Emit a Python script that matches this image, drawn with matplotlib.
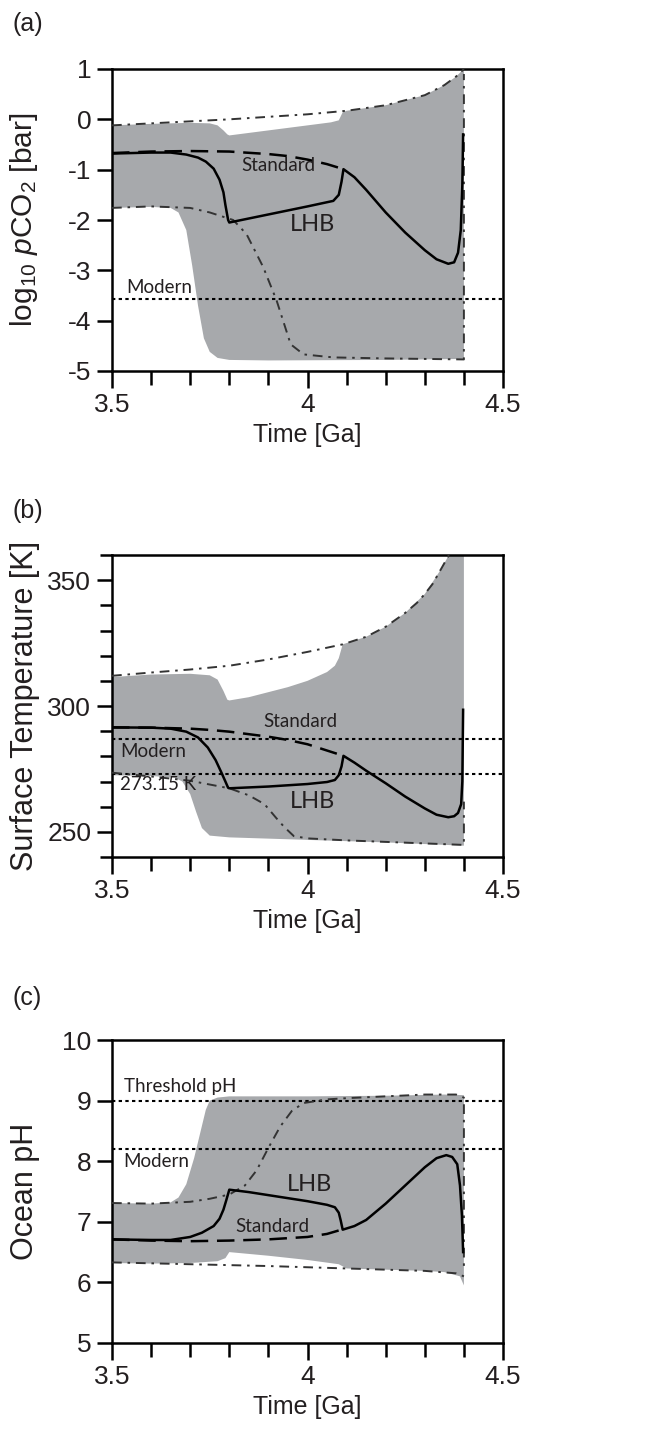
import numpy as np
import matplotlib.pyplot as plt
from matplotlib.ticker import FixedLocator, MultipleLocator

plt.rcParams['font.family'] = ['Liberation Sans', 'DejaVu Sans']
plt.rcParams['axes.unicode_minus'] = False
plt.rcParams['mathtext.fontset'] = 'custom'
plt.rcParams['mathtext.rm'] = 'Liberation Sans'
plt.rcParams['mathtext.it'] = 'Liberation Sans:italic'

GRAY = '#a7a9ac'
ANNOT = ['Lato', 'DejaVu Sans']
TXT = '#231f20'

# ---------------- (a) log10 pCO2 ----------------
a_band_up_x = [3.5, 3.6, 3.7, 3.75, 3.77, 3.785, 3.795, 3.8, 3.9, 4.0, 4.06, 4.08, 4.09, 4.1, 4.2, 4.3, 4.35, 4.38, 4.4]
a_band_up_y = [-0.12, -0.09, -0.07, -0.08, -0.12, -0.22, -0.3, -0.32, -0.22, -0.12, -0.06, -0.02, 0.14, 0.17, 0.28, 0.48, 0.68, 0.85, 1.0]
a_band_lo_x = [3.5, 3.6, 3.65, 3.67, 3.69, 3.705, 3.72, 3.735, 3.75, 3.77, 3.8, 3.9, 4.2, 4.4]
a_band_lo_y = [-1.76, -1.74, -1.76, -1.85, -2.2, -2.9, -3.7, -4.35, -4.62, -4.74, -4.78, -4.79, -4.78, -4.76]
a_hi_x = [3.5, 3.6, 3.7, 3.8, 3.9, 4.0, 4.1, 4.2, 4.3, 4.35, 4.38, 4.4]
a_hi_y = [-0.12, -0.08, -0.04, 0.0, 0.05, 0.1, 0.17, 0.28, 0.48, 0.68, 0.85, 1.0]
a_lo_x = [3.5, 3.6, 3.7, 3.75, 3.81, 3.844, 3.887, 3.921, 3.957, 3.99, 4.066, 4.2, 4.3, 4.4, 4.4]
a_lo_y = [-1.76, -1.73, -1.76, -1.85, -2.0, -2.28, -2.94, -3.6, -4.47, -4.67, -4.73, -4.75, -4.76, -4.77, 0.9]
a_std_x = [3.5, 3.6, 3.7, 3.8, 3.9, 3.95, 4.0, 4.05, 4.092]
a_std_y = [-0.67, -0.64, -0.63, -0.64, -0.69, -0.73, -0.8, -0.89, -0.99]
a_lhb_x = [3.5, 3.6, 3.65, 3.69, 3.72, 3.74, 3.76, 3.775, 3.785, 3.79, 3.797, 3.8, 3.9, 4.0, 4.066,
           4.08, 4.087, 4.092, 4.12, 4.15, 4.2, 4.25, 4.3, 4.33, 4.36, 4.375, 4.385, 4.392, 4.396, 4.398]
a_lhb_y = [-0.68, -0.66, -0.66, -0.7, -0.76, -0.84, -0.98, -1.2, -1.45, -1.7, -2.0, -2.05, -1.89, -1.73, -1.62,
           -1.5, -1.24, -0.99, -1.15, -1.4, -1.85, -2.25, -2.6, -2.78, -2.87, -2.84, -2.65, -2.2, -1.3, -0.3]
a_modern = -3.56

# ---------------- (b) surface temperature ----------------
b_band_up_x = [3.5, 3.6, 3.7, 3.75, 3.77, 3.785, 3.795, 3.8, 3.85, 3.9, 3.95, 4.0, 4.05, 4.07, 4.08, 4.09,
               4.15, 4.2, 4.25, 4.3, 4.34, 4.36, 4.37, 4.4]
b_band_up_y = [311.5, 312.5, 312.8, 312.2, 310.5, 306, 302.5, 302.2, 303.5, 305.5, 307.5, 310, 313.5, 316, 319, 324.5,
               327.5, 331.5, 337, 344.5, 354, 359.5, 365, 365]
b_band_lo_x = [3.5, 3.6, 3.66, 3.68, 3.7, 3.715, 3.73, 3.75, 3.8, 3.9, 4.0, 4.2, 4.4]
b_band_lo_y = [272.5, 272.2, 271.5, 270, 265, 258, 251.5, 248.5, 247.8, 247.3, 246.8, 245.8, 244.5]
b_hi_x = [3.5, 3.6, 3.7, 3.8, 3.9, 4.0, 4.09, 4.15, 4.2, 4.25, 4.28, 4.3, 4.32, 4.34, 4.36, 4.37]
b_hi_y = [312, 313.3, 314.5, 316, 318.5, 321.5, 324.5, 327.5, 331.5, 337, 341, 344.5, 348.5, 354, 359.5, 363]
b_lo_x = [3.5, 3.6, 3.7, 3.8, 3.85, 3.89, 3.92, 3.94, 3.965, 4.0, 4.1, 4.2, 4.3, 4.4, 4.4]
b_lo_y = [273.5, 272, 270.3, 267.3, 264.5, 261, 255.5, 252, 248.3, 247.4, 246.6, 246, 245.4, 244.8, 262]
b_std_x = [3.5, 3.6, 3.7, 3.75, 3.8, 3.85, 3.9, 3.95, 4.0, 4.05, 4.092]
b_std_y = [291.5, 291.4, 291, 290.5, 289.8, 288.8, 287.8, 286.5, 284.8, 282.3, 280.2]
b_lhb_x = [3.5, 3.6, 3.65, 3.69, 3.72, 3.745, 3.765, 3.78, 3.79, 3.797, 3.8, 3.9, 4.0, 4.05, 4.07,
           4.08, 4.087, 4.092, 4.12, 4.15, 4.2, 4.25, 4.3, 4.33, 4.36, 4.375, 4.385, 4.393, 4.396, 4.398]
b_lhb_y = [291.5, 291.4, 291, 289.8, 287.5, 283.5, 278.5, 273.5, 270, 267.5, 267.3, 268, 269, 269.8, 270.6,
           272.5, 276, 280.2, 277.5, 274.3, 269.3, 264, 259.3, 256.8, 255.8, 256.2, 257.5, 261, 270, 298.5]
b_modern = 287.0
b_freeze = 273.15

# ---------------- (c) ocean pH ----------------
c_band_up_x = [3.5, 3.6, 3.65, 3.67, 3.69, 3.71, 3.725, 3.74, 3.75, 3.77, 3.8, 4.0, 4.2, 4.35, 4.4]
c_band_up_y = [7.31, 7.3, 7.32, 7.4, 7.62, 8.05, 8.45, 8.85, 9.0, 9.05, 9.07, 9.07, 9.08, 9.1, 9.09]
c_band_lo_x = [3.5, 3.6, 3.7, 3.77, 3.79, 3.8, 3.9, 4.0, 4.08, 4.1, 4.2, 4.3, 4.35, 4.39, 4.4]
c_band_lo_y = [6.32, 6.31, 6.32, 6.35, 6.4, 6.5, 6.44, 6.37, 6.3, 6.23, 6.21, 6.19, 6.17, 6.1, 5.95]
c_hi_x = [3.5, 3.6, 3.7, 3.75, 3.8, 3.84, 3.87, 3.9, 3.93, 3.96, 3.99, 4.05, 4.1, 4.2, 4.3, 4.38, 4.4, 4.4]
c_hi_y = [7.31, 7.3, 7.33, 7.38, 7.45, 7.6, 7.85, 8.22, 8.57, 8.83, 8.96, 9.02, 9.04, 9.07, 9.1, 9.1, 9.05, 6.2]
c_lo_x = [3.5, 3.7, 3.9, 4.1, 4.3, 4.38, 4.4]
c_lo_y = [6.33, 6.3, 6.27, 6.23, 6.19, 6.15, 6.1]
c_std_x = [3.5, 3.6, 3.7, 3.8, 3.9, 4.0, 4.05, 4.092]
c_std_y = [6.71, 6.69, 6.68, 6.69, 6.71, 6.75, 6.8, 6.88]
c_lhb_x = [3.5, 3.6, 3.65, 3.7, 3.73, 3.76, 3.775, 3.785, 3.792, 3.8, 3.85, 3.9, 3.95, 4.0, 4.05, 4.07,
           4.08, 4.085, 4.09, 4.12, 4.15, 4.2, 4.25, 4.3, 4.33, 4.355, 4.37, 4.383, 4.39, 4.395, 4.398]
c_lhb_y = [6.71, 6.7, 6.7, 6.75, 6.82, 6.93, 7.05, 7.2, 7.35, 7.53, 7.49, 7.44, 7.39, 7.34, 7.28, 7.24,
           7.15, 7.02, 6.87, 6.93, 7.03, 7.3, 7.6, 7.9, 8.05, 8.1, 8.07, 7.95, 7.6, 7.1, 6.5]
c_threshold = 9.0
c_modern = 8.2

DOT = (0, (1.6, 1.6))
DASH = (0, (7, 3.5))
DASHDOT = (0, (5, 3, 1.3, 3))


def draw_panel(ax, up_x, up_y, lo_x, lo_y, hi_x, hi_y, lw_x, lw_y, std_x, std_y, lhb_x, lhb_y):
    ax.fill(np.r_[up_x, lo_x[::-1]], np.r_[up_y, lo_y[::-1]], color=GRAY, lw=0, zorder=1)
    ax.plot(hi_x, hi_y, color='#333333', lw=1.4, ls=DASHDOT, zorder=3)
    ax.plot(lw_x, lw_y, color='#333333', lw=1.4, ls=DASHDOT, zorder=3)
    ax.plot(std_x, std_y, color='black', lw=1.8, ls=DASH, zorder=4)
    ax.plot(lhb_x, lhb_y, color='black', lw=1.8, zorder=5)


def style_axes(ax, ylim, ymajor, yminor=None):
    ax.set_xlim(3.5, 4.5)
    ax.set_ylim(*ylim)
    ax.xaxis.set_major_locator(FixedLocator([3.5, 4.0, 4.5]))
    ax.set_xticklabels(['3.5', '4', '4.5'])
    ax.xaxis.set_minor_locator(MultipleLocator(0.1))
    ax.yaxis.set_major_locator(MultipleLocator(ymajor))
    if yminor:
        ax.yaxis.set_minor_locator(MultipleLocator(yminor))
    ax.tick_params(which='both', direction='out', width=1.8, top=False, right=False,
                   labelsize=19, labelcolor=TXT)
    ax.tick_params(axis='x', which='major', length=12.5, pad=3)
    ax.tick_params(axis='x', which='minor', length=10)
    ax.tick_params(axis='y', which='major', length=11, pad=4)
    ax.tick_params(axis='y', which='minor', length=8.5)
    for s in ax.spines.values():
        s.set_linewidth(1.8)
    ax.set_xlabel('Time [Ga]', fontsize=18, color=TXT, va='center')
    ax.xaxis.set_label_coords(0.5, -0.212)
    ax.yaxis.set_label_coords(-0.185, 0.5)


fig = plt.figure(figsize=(6.57, 14.38), dpi=100)
W = 1438.0
ax_a = fig.add_axes([112 / 657, 1 - 371 / W, 391 / 657, 302 / W])
ax_b = fig.add_axes([112 / 657, 1 - 857 / W, 391 / 657, 302 / W])
ax_c = fig.add_axes([112 / 657, 1 - 1343 / W, 391 / 657, 303 / W])

# (a)
draw_panel(ax_a, a_band_up_x, a_band_up_y, a_band_lo_x, a_band_lo_y, a_hi_x, a_hi_y,
           a_lo_x, a_lo_y, a_std_x, a_std_y, a_lhb_x, a_lhb_y)
ax_a.axhline(a_modern, color='black', lw=1.5, ls=DOT, zorder=2)
style_axes(ax_a, (-5, 1), 1)
ax_a.set_ylabel(r'log$_{10}$ $\mathit{p}$CO$_2$ [bar]', fontsize=21.5, color=TXT)
ax_a.text(3.925, -0.92, 'Standard', fontsize=13.5, family=ANNOT, ha='center', va='center', color=TXT, zorder=6)
ax_a.text(4.012, -2.08, 'LHB', fontsize=17, family=ANNOT, ha='center', va='center', color=TXT, zorder=6)
ax_a.text(3.537, -3.34, 'Modern', fontsize=13.5, family=ANNOT, ha='left', va='center', color=TXT, zorder=6)

# (b)
draw_panel(ax_b, b_band_up_x, b_band_up_y, b_band_lo_x, b_band_lo_y, b_hi_x, b_hi_y,
           b_lo_x, b_lo_y, b_std_x, b_std_y, b_lhb_x, b_lhb_y)
ax_b.axhline(b_modern, color='black', lw=1.5, ls=DOT, zorder=2)
ax_b.axhline(b_freeze, color='black', lw=1.5, ls=DOT, zorder=2)
style_axes(ax_b, (240, 360), 50, 10)
ax_b.set_ylabel('Surface Temperature [K]', fontsize=22, color=TXT)
ax_b.text(3.981, 293.8, 'Standard', fontsize=13.5, family=ANNOT, ha='center', va='center', color=TXT, zorder=6)
ax_b.text(4.013, 262, 'LHB', fontsize=17, family=ANNOT, ha='center', va='center', color=TXT, zorder=6)
ax_b.text(3.52, 281.9, 'Modern', fontsize=13.5, family=ANNOT, ha='left', va='center', color=TXT, zorder=6)
ax_b.text(3.52, 268.7, '273.15 K', fontsize=13.5, family=ANNOT, ha='left', va='center', color=TXT, zorder=6)

# (c)
draw_panel(ax_c, c_band_up_x, c_band_up_y, c_band_lo_x, c_band_lo_y, c_hi_x, c_hi_y,
           c_lo_x, c_lo_y, c_std_x, c_std_y, c_lhb_x, c_lhb_y)
ax_c.axhline(c_threshold, color='black', lw=1.5, ls=DOT, zorder=2)
ax_c.axhline(c_modern, color='black', lw=1.5, ls=DOT, zorder=2)
style_axes(ax_c, (5, 10), 1)
ax_c.set_ylabel('Ocean pH', fontsize=22, color=TXT)
ax_c.text(3.91, 6.92, 'Standard', fontsize=13.5, family=ANNOT, ha='center', va='center', color=TXT, zorder=6)
ax_c.text(4.006, 7.61, 'LHB', fontsize=17, family=ANNOT, ha='center', va='center', color=TXT, zorder=6)
ax_c.text(3.53, 8.0, 'Modern', fontsize=13.5, family=ANNOT, ha='left', va='center', color=TXT, zorder=6)
ax_c.text(3.53, 9.23, 'Threshold pH', fontsize=13.5, family=ANNOT, ha='left', va='center', color=TXT, zorder=6)

# panel letters
for lab, ypx in [('(a)', 24), ('(b)', 511), ('(c)', 998)]:
    fig.text(13 / 657, 1 - ypx / W, lab, fontsize=18, ha='left', va='center', color=TXT)

fig.savefig('out.png', dpi=100)
